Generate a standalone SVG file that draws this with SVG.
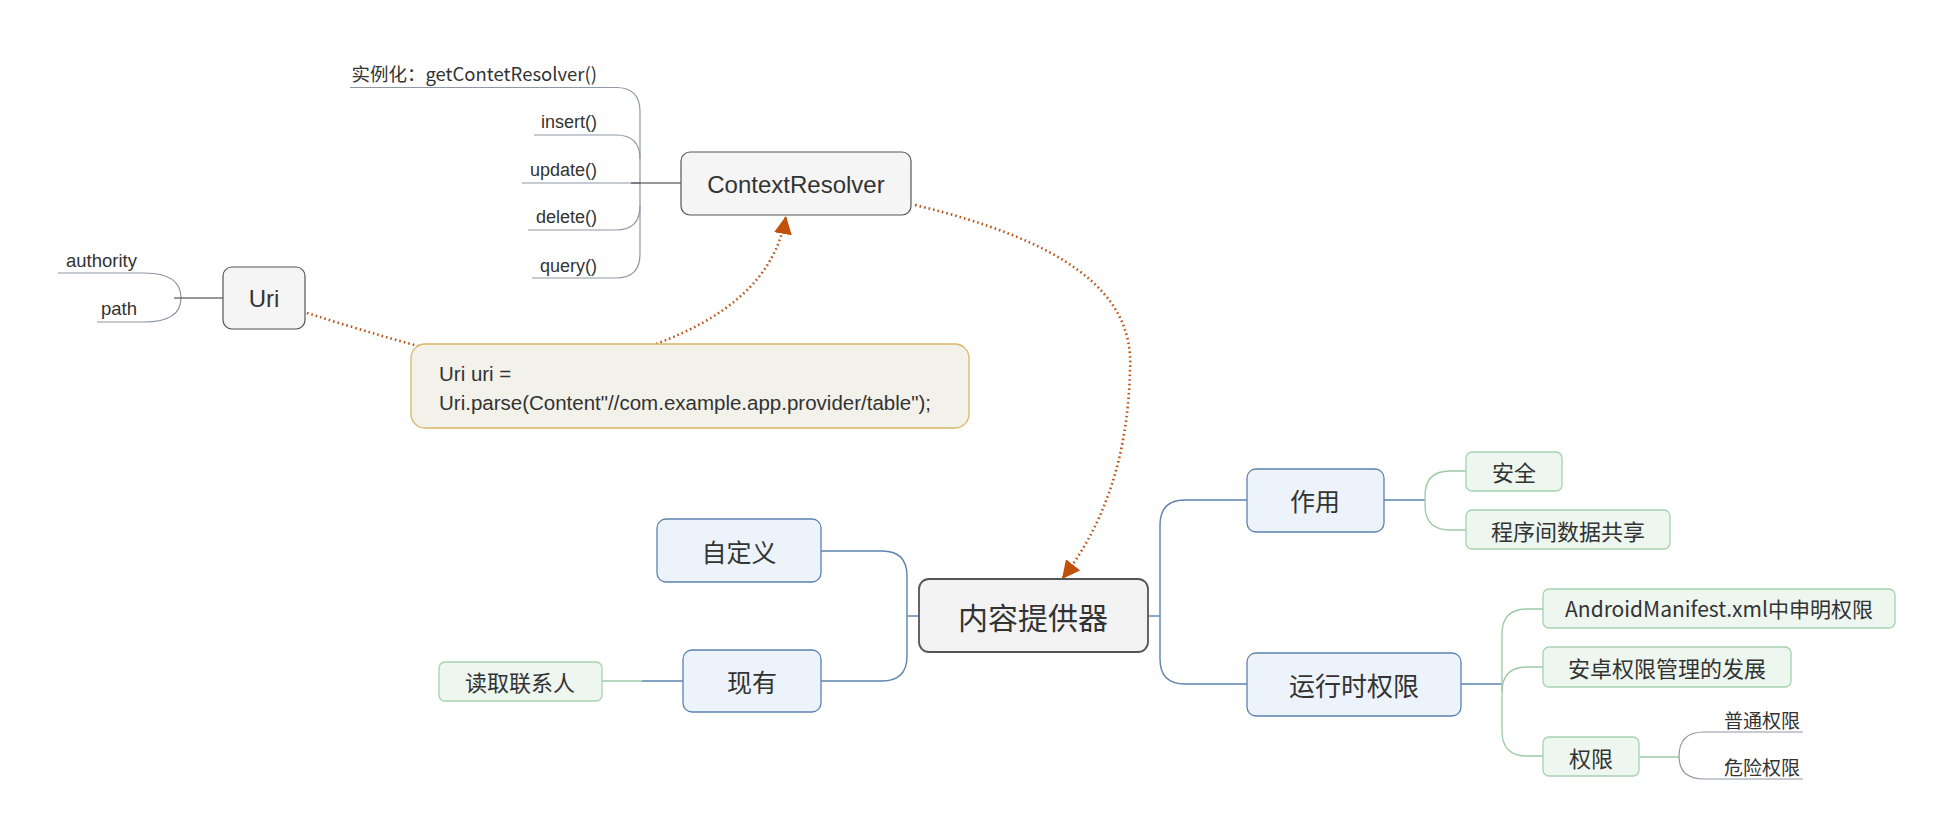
<svg xmlns="http://www.w3.org/2000/svg" width="1953" height="838" viewBox="0 0 1953 838">
<defs>
<style>
.lat{font-family:"Liberation Sans","Noto Sans CJK SC",sans-serif;fill:#333}
.cjk{font-family:"Noto Sans CJK SC","Liberation Sans",sans-serif;fill:#333}
.c{text-anchor:middle;dominant-baseline:central}
.e{text-anchor:end;dominant-baseline:central}
.s{text-anchor:start;dominant-baseline:central}
.gray{fill:#f5f5f5;stroke:#555;stroke-width:1.2}
.root{fill:#f3f3f3;stroke:#555;stroke-width:1.8}
.blue{fill:#edf3fb;stroke:#5b83b0;stroke-width:1.3}
.green{fill:#edf6ef;stroke:#a6d2b0;stroke-width:1.3}
.note{fill:#f2f1ea;stroke:#d8b763;stroke-width:1.3}
.lb{fill:none;stroke:#5b83b0;stroke-width:1.4}
.lg{fill:none;stroke:#9ccaa6;stroke-width:1.3}
.lgr{fill:none;stroke:#8e98a4;stroke-width:1.2}
.ld{fill:none;stroke:#333;stroke-width:1.2}
.rel{fill:none;stroke:#b8561b;stroke-width:2.6;stroke-dasharray:1.6 3}
</style>
<marker id="arr" markerUnits="userSpaceOnUse" markerWidth="20" markerHeight="20" refX="18" refY="9" orient="auto">
<path d="M0,0 L18,9 L0,18 Z" fill="#c0500a"/>
</marker>
</defs>
<rect width="1953" height="838" fill="#ffffff"/>

<g id="connectors">
<path class="lgr" d="M350,87.5 H616 Q640,87.5 640,111.5 V254 Q640,278 616,278 H532"/>
<path class="lgr" d="M534,135 H616 Q640,135 640,159"/>
<path class="lgr" d="M522,183 H640"/>
<path class="lgr" d="M528,230 H616 Q640,230 640,206"/>
<path class="ld" d="M631,183 H681"/>
<path class="lgr" d="M58,273 H144 Q181,273 181,298 Q181,322 144,322 H97"/>
<path class="ld" d="M174,298 H223"/>
<path class="lb" d="M1148,616 H1160"/>
<path class="lb" d="M1247,500 H1185 Q1160,500 1160,525 V659 Q1160,684 1185,684 H1247"/>
<path class="lb" d="M919,616 H907"/>
<path class="lb" d="M821,551 H882 Q907,551 907,576 V656 Q907,681 882,681 H821"/>
<path class="lb" d="M683,681 H642"/>
<path class="lg" d="M642,681 H602"/>
<path class="lb" d="M1384,500 H1425"/>
<path class="lg" d="M1466,471 H1450 Q1425,471 1425,496 V505 Q1425,530 1450,530 H1466"/>
<path class="lb" d="M1461,684 H1502"/>
<path class="lg" d="M1543,609 H1527 Q1502,609 1502,634 V731 Q1502,756 1527,756 H1543"/>
<path class="lg" d="M1543,667 H1527 Q1502,667 1502,692"/>
<path class="lg" d="M1639,757 H1679"/>
<path class="lgr" d="M1803,732 H1704 Q1679,732 1679,756 Q1679,779 1704,779 H1803"/>
<path class="rel" d="M307,313 Q360,330 418,346"/>
<path class="rel" d="M656,344 C725,318 775,280 786,216" marker-end="url(#arr)"/>
<path class="rel" d="M915,205 C1060,240 1135,290 1130,370 C1128,450 1108,520 1062,579" marker-end="url(#arr)"/>
</g>

<g id="n-getcontent"><text class="cjk e" x="597" y="73" font-size="18.5">实例化：getContetResolver()</text></g>
<g id="n-insert"><text class="lat e" x="597" y="122" font-size="18">insert()</text></g>
<g id="n-update"><text class="lat e" x="597" y="170" font-size="18">update()</text></g>
<g id="n-delete"><text class="lat e" x="597" y="217" font-size="18">delete()</text></g>
<g id="n-query"><text class="lat e" x="597" y="266" font-size="18">query()</text></g>
<g id="n-authority"><text class="lat e" x="137" y="260" font-size="18.5">authority</text></g>
<g id="n-path"><text class="lat e" x="137" y="308" font-size="18.5">path</text></g>

<g id="n-contextresolver">
<rect class="gray" x="681" y="152" width="230" height="63" rx="9"/>
<text class="lat c" x="796" y="184" font-size="24">ContextResolver</text>
</g>
<g id="n-uri">
<rect class="gray" x="223" y="267" width="82" height="62" rx="9"/>
<text class="lat c" x="264" y="298" font-size="24">Uri</text>
</g>
<g id="n-note">
<rect class="note" x="411" y="344" width="558" height="84" rx="14"/>
<text class="lat s" x="439" y="373" font-size="20.5">Uri uri =</text>
<text class="lat s" x="439" y="402" font-size="20.5">Uri.parse(Content"//com.example.app.provider/table");</text>
</g>

<g id="n-root">
<rect class="root" x="919" y="579" width="229" height="73" rx="10"/>
<text class="cjk c" x="1033" y="616" font-size="30">内容提供器</text>
</g>
<g id="n-zuoyong">
<rect class="blue" x="1247" y="469" width="137" height="63" rx="9"/>
<text class="cjk c" x="1315" y="500" font-size="25">作用</text>
</g>
<g id="n-yunxing">
<rect class="blue" x="1247" y="653" width="214" height="63" rx="9"/>
<text class="cjk c" x="1354" y="684" font-size="26">运行时权限</text>
</g>
<g id="n-zidingyi">
<rect class="blue" x="657" y="519" width="164" height="63" rx="9"/>
<text class="cjk c" x="739" y="551" font-size="25">自定义</text>
</g>
<g id="n-xianyou">
<rect class="blue" x="683" y="650" width="138" height="62" rx="9"/>
<text class="cjk c" x="752" y="681" font-size="25">现有</text>
</g>
<g id="n-duqu">
<rect class="green" x="439" y="662" width="163" height="39" rx="6"/>
<text class="cjk c" x="520" y="681" font-size="22">读取联系人</text>
</g>
<g id="n-anquan">
<rect class="green" x="1466" y="452" width="96" height="39" rx="6"/>
<text class="cjk c" x="1514" y="471" font-size="22">安全</text>
</g>
<g id="n-gongxiang">
<rect class="green" x="1466" y="510" width="204" height="39" rx="6"/>
<text class="cjk c" x="1568" y="530" font-size="22">程序间数据共享</text>
</g>
<g id="n-manifest">
<rect class="green" x="1543" y="589" width="352" height="39" rx="6"/>
<text class="cjk c" x="1719" y="608" font-size="21">AndroidManifest.xml中申明权限</text>
</g>
<g id="n-fazhan">
<rect class="green" x="1543" y="647" width="248" height="40" rx="6"/>
<text class="cjk c" x="1667" y="667" font-size="22">安卓权限管理的发展</text>
</g>
<g id="n-quanxian">
<rect class="green" x="1543" y="737" width="96" height="39" rx="6"/>
<text class="cjk c" x="1591" y="757" font-size="22">权限</text>
</g>
<g id="n-putong"><text class="cjk e" x="1800" y="719" font-size="19">普通权限</text></g>
<g id="n-weixian"><text class="cjk e" x="1800" y="766" font-size="19">危险权限</text></g>
</svg>
